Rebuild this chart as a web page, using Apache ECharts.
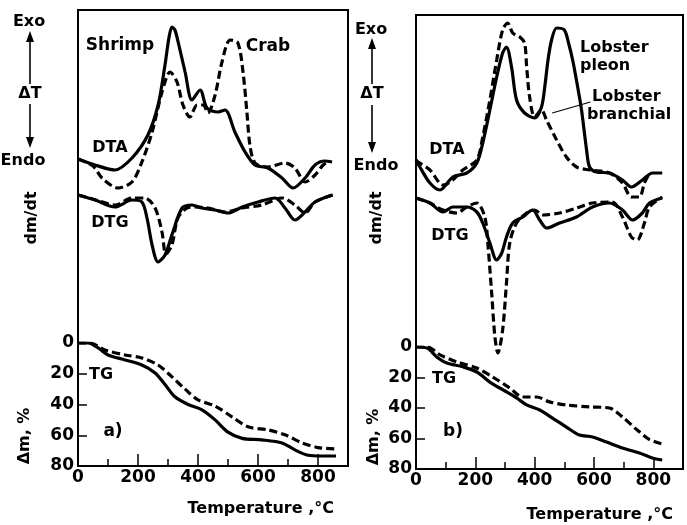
<!DOCTYPE html>
<html><head><meta charset="utf-8">
<script src="https://cdn.jsdelivr.net/npm/echarts@6/dist/echarts.min.js"></script>
<style>html,body{margin:0;padding:0;background:#fff}#c{width:687px;height:525px}</style>
</head><body><div id="c"></div>
<script>
// ---- Panel a) : Shrimp (solid) / Crab (dashed) ----
// DTA / DTG in arbitrary units (up = exo), temperature in °C
const dtaShrimp = [[0,307],[57,301],[123,296],[180,308],[233,331],[267,361],[290,401],[303,428],[313,439],[323,436],[333,425],[357,394],[380,366],[407,376],[430,358],[467,354],[490,356],[523,334],[557,314],[590,301],[633,298],[680,288],[717,278],[757,288],[790,301],[823,305],[847,304]];
const dtaCrab = [[0,307],[50,300],[80,288],[133,278],[180,284],[213,304],[247,334],[280,374],[307,394],[330,384],[350,361],[373,349],[397,361],[417,361],[433,353],[457,371],[480,404],[507,426],[533,423],[550,394],[563,354],[573,321],[590,303],[633,299],[690,303],[723,298],[757,284],[790,291],[817,301],[833,304]];
const dtgShrimp = [[0,271],[57,266],[123,259],[180,266],[213,264],[230,248],[247,221],[267,204],[290,211],[313,231],[347,258],[380,261],[413,258],[457,256],[500,253],[547,259],[600,264],[657,268],[690,258],[723,246],[757,254],[790,264],[847,271]];
const dtgCrab = [[0,271],[60,266],[123,261],[180,268],[223,268],[257,258],[280,234],[293,212],[313,221],[333,248],[363,258],[390,259],[433,258],[490,254],[547,258],[613,261],[680,268],[723,261],[757,253],[790,264],[850,271]];
// TG, mass loss %
const tgShrimp = [[0,0],[33,0],[67,3.2],[100,7.8],[157,11],[213,14.3],[257,19.5],[290,27],[323,35],[367,40],[413,43.5],[457,50],[500,58],[547,62],[613,63],[680,65],[723,69.5],[767,73],[813,73.5],[860,73.5]];
const tgCrab = [[0,0],[40,0],[90,4.5],[157,7.8],[213,9.7],[267,14.3],[313,22],[357,30],[400,37],[457,41],[513,48],[567,54.5],[633,56.5],[690,59.7],[747,65],[800,68],[863,69]];

// ---- Panel b) : Lobster pleon (solid) / Lobster branchial (dashed) ----
const dtaPleon = [[0,309],[13,302],[47,286],[81,279],[124,292],[171,296],[205,306],[225,326],[249,359],[272,392],[292,416],[305,422],[322,402],[339,369],[366,356],[400,351],[423,362],[434,382],[445,409],[457,429],[474,441],[500,439],[515,425],[528,409],[545,382],[558,359],[575,319],[585,302],[608,297],[652,296],[696,289],[726,282],[763,289],[797,296],[830,296]];
const dtaBranchial = [[0,309],[7,307],[47,299],[91,284],[124,289],[158,299],[205,309],[225,332],[249,369],[272,409],[292,439],[309,446],[326,436],[350,432],[366,426],[373,402],[383,372],[400,352],[423,359],[440,349],[474,329],[507,312],[541,302],[585,299],[652,296],[696,286],[726,272],[753,272],[770,286],[787,296]];
const dtgPleon = [[0,271],[47,266],[91,257],[124,262],[171,262],[205,257],[225,246],[249,226],[272,209],[289,216],[305,232],[326,246],[360,252],[393,259],[417,249],[440,241],[484,246],[541,252],[595,262],[652,266],[696,259],[730,249],[763,256],[787,266],[830,271]];
const dtgBranchial = [[0,271],[47,266],[91,259],[138,256],[171,262],[205,266],[232,252],[242,226],[255,176],[266,132],[276,116],[292,139],[305,186],[316,226],[339,246],[373,256],[400,259],[427,254],[484,256],[541,261],[595,266],[662,267],[696,252],[726,232],[746,229],[770,246],[787,262],[830,272]];
const tgPleon = [[0,0],[37,0.7],[70,6.5],[104,10.5],[158,13],[205,16.4],[249,23],[292,28],[339,33.4],[373,38],[417,41.3],[460,46.6],[507,52.5],[551,57.7],[595,59],[642,62.3],[696,66.2],[753,69.5],[797,72.8],[830,74.1]];
const tgBranchial = [[0,0],[40,0],[81,5.2],[138,9.8],[205,13.8],[259,19.7],[316,26.9],[360,32.8],[407,32.8],[450,36],[507,38],[585,39.3],[652,40],[696,45.9],[743,54],[787,60.7],[830,63.6]];

const tempTicks = [0,200,400,600,800];
const massTicks = [0,20,40,60,80];

const FONT = 'DejaVu Sans';
const chart = echarts.init(document.getElementById('c'));

function line(data, dashed, xi, yi, extra) {
  return Object.assign({
    type:'line', data:data, xAxisIndex:xi, yAxisIndex:yi, symbol:'none', smooth:0.3,
    silent:true, animation:false,
    lineStyle:{color:'#000', width:3.2, type: dashed ? [8,4] : 'solid', cap:'butt'}
  }, extra || {});
}
// major temperature axis: ticks every 200, labels
function tempAxis(gi, show) {
  return {
    type:'value', gridIndex:gi, min:0, max:900, interval:200, show:show, position:'bottom',
    axisLine:{show:true, onZero:false, lineStyle:{color:'#000', width:2}},
    axisTick:{show:true, inside:true, length:12, lineStyle:{color:'#000', width:1.5}},
    axisLabel:{color:'#000', fontFamily:FONT, fontSize:17, fontWeight:'bold', margin:3,
      formatter:function(v){ return tempTicks.indexOf(v) >= 0 ? String(v) : ''; }},
    splitLine:{show:false}
  };
}
// minor temperature ticks every 100
function tempMinorAxis(gi) {
  return {
    type:'value', gridIndex:gi, min:0, max:900, interval:100, position:'bottom',
    axisLine:{show:false, onZero:false},
    axisTick:{show:true, inside:true, length:7, lineStyle:{color:'#000', width:1.5}},
    axisLabel:{show:false}, splitLine:{show:false}
  };
}
function massAxis(gi) {
  return {
    type:'value', gridIndex:gi, min:0, max:80, interval:20, inverse:true, position:'left',
    axisLine:{show:true, onZero:false, lineStyle:{color:'#000', width:2}},
    axisTick:{show:true, inside:true, length:9, lineStyle:{color:'#000', width:1.5}},
    axisLabel:{color:'#000', fontFamily:FONT, fontSize:17, fontWeight:'bold', margin:4,
      formatter:function(v){ return massTicks.indexOf(v) >= 0 ? String(v) : ''; }},
    splitLine:{show:false}
  };
}
function txt(x, y, s, opt) {
  opt = opt || {};
  return {type:'text', x:x, y:y, rotation: opt.rot || 0, silent:true,
    style:{text:s, fill:'#000', font:'bold '+(opt.size||16)+'px "'+FONT+'"',
      textAlign: opt.align || 'center', textVerticalAlign:'middle'}};
}
function arrow(x, y1, y2, up) {
  const tip = up ? y1 : y2;
  const base = up ? tip + 11 : tip - 11;
  return [
    {type:'line', silent:true, shape:{x1:x, y1:up ? base : y1, x2:x, y2:up ? y2 : base}, style:{stroke:'#000', lineWidth:1.6}},
    {type:'polygon', silent:true, shape:{points:[[x,tip],[x-4,base],[x+4,base]]}, style:{fill:'#000'}}
  ];
}

const graphics = [].concat(
  [txt(29,22,'Exo')], arrow(30,31,84,true), [txt(30,94,'ΔT')], arrow(30,104,148,false),
  [txt(23,161,'Endo'), txt(32,218,'dm/dt',{rot:Math.PI/2}), txt(25,436,'Δm, %',{rot:Math.PI/2})],
  [txt(120,46,'Shrimp',{size:17}), txt(268,47,'Crab',{size:17}),
   txt(110,148,'DTA'), txt(110,223,'DTG'), txt(89,375,'TG',{align:'left'}), txt(113,432,'a)',{size:17}),
   txt(334,509,'Temperature ,°C',{align:'right', size:16})],
  [txt(371,30,'Exo')], arrow(372,38,84,true), [txt(372,94,'ΔT')], arrow(372,105,153,false),
  [txt(376,166,'Endo'), txt(377,218,'dm/dt',{rot:Math.PI/2}), txt(374,437,'Δm, %',{rot:Math.PI/2})],
  [txt(580,48,'Lobster',{align:'left'}), txt(580,66,'pleon',{align:'left'}),
   txt(592,97,'Lobster',{align:'left'}), txt(587,115,'branchial',{align:'left'}),
   txt(447,150,'DTA'), txt(450,236,'DTG'), txt(432,379,'TG',{align:'left'}), txt(453,432,'b)',{size:17}),
   txt(673,515,'Temperature ,°C',{align:'right', size:16})]
);

chart.setOption({
  animation:false,
  backgroundColor:'#fff',
  grid:[
    {left:78, top:10, width:270, height:456, show:true, borderColor:'#000', borderWidth:2, backgroundColor:'transparent'},
    {left:78, top:343, width:270, height:123},
    {left:416, top:15, width:267, height:454, show:true, borderColor:'#000', borderWidth:2, backgroundColor:'transparent'},
    {left:416, top:347, width:267, height:122}
  ],
  xAxis:[ tempAxis(0,false), tempAxis(1,true), tempAxis(2,false), tempAxis(3,true),
          tempMinorAxis(1), tempMinorAxis(3) ],
  yAxis:[
    {type:'value', gridIndex:0, min:0, max:456, show:false},
    massAxis(1),
    {type:'value', gridIndex:2, min:0, max:454, show:false},
    massAxis(3)
  ],
  series:[
    line(dtaShrimp,false,0,0), line(dtaCrab,true,0,0),
    line(dtgShrimp,false,0,0), line(dtgCrab,true,0,0),
    line(tgShrimp,false,1,1), line(tgCrab,true,1,1),
    line(dtaPleon,false,2,2),
    line(dtaBranchial,true,2,2,{markLine:{silent:true, symbol:['none','none'], animation:false,
      lineStyle:{color:'#000', type:'solid', width:1.3}, label:{show:false},
      data:[[{coord:[459,356]},{coord:[588,367]}]]}}),
    line(dtgPleon,false,2,2), line(dtgBranchial,true,2,2),
    line(tgPleon,false,3,3), line(tgBranchial,true,3,3)
  ],
  graphic: graphics
});
</script></body></html>
